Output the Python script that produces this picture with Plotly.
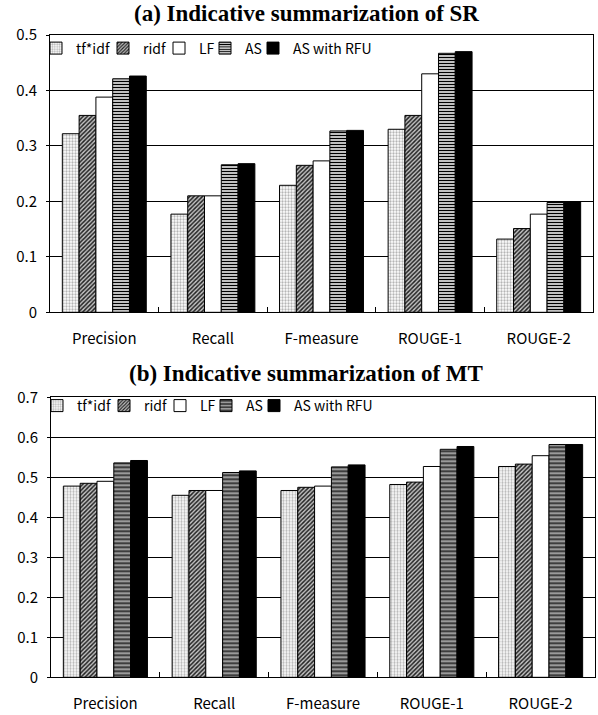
import plotly.graph_objects as go

categories = ["Precision", "Recall", "F-measure", "ROUGE-1", "ROUGE-2"]
series_names = ["tf*idf", "ridf", "LF", "AS", "AS with RFU"]

sr_tfidf = [0.322, 0.177, 0.229, 0.330, 0.132]
sr_ridf = [0.355, 0.210, 0.265, 0.355, 0.151]
sr_lf = [0.388, 0.210, 0.273, 0.430, 0.177]
sr_as = [0.421, 0.266, 0.327, 0.467, 0.198]
sr_rfu = [0.426, 0.268, 0.328, 0.470, 0.199]

mt_tfidf = [0.478, 0.455, 0.467, 0.482, 0.527]
mt_ridf = [0.485, 0.467, 0.475, 0.488, 0.533]
mt_lf = [0.490, 0.467, 0.478, 0.527, 0.554]
mt_as = [0.536, 0.512, 0.526, 0.570, 0.582]
mt_rfu = [0.542, 0.516, 0.531, 0.577, 0.582]

title_a = "(a) Indicative summarization of SR"
title_b = "(b) Indicative summarization of MT"

W, H = 598, 715
OFF = 0  # body margin removed by post_script
FONT = "Noto Sans CJK JP, Arial, sans-serif"
SERIF = "Liberation Serif, Times New Roman, serif"


def px_y(p):
    return 1 - (p - OFF) / H


def px_x(p):
    return (p - OFF) / W


def styles(panel):
    as_pat = (dict(shape="-", fgcolor="black", bgcolor="white", size=3, solidity=0.5)
              if panel == "a" else
              dict(shape="-", fgcolor="black", bgcolor="#9a9a9a", size=4, solidity=0.3))
    return [
        dict(color="white", pattern=dict(shape=".", fgcolor="#b5b5b5", bgcolor="white", size=3, solidity=0.45)),
        dict(color="white", pattern=dict(shape="/", fgcolor="#222222", bgcolor="#c4c4c4", size=3, solidity=0.5)),
        dict(color="white"),
        dict(color="white", pattern=as_pat),
        dict(color="black"),
    ]


# legend entry left positions (page px) for each series
legend_x_px = [36, 103, 159, 205, 253]

fig = go.Figure()

panels = [
    ("a", [sr_tfidf, sr_ridf, sr_lf, sr_as, sr_rfu], "x", "y", 0, 48.5),
    ("b", [mt_tfidf, mt_ridf, mt_lf, mt_as, mt_rfu], "x2", "y2", 5, 406),
]
legend_layouts = {}
for panel, data, xa, ya, lg_off, lg_y in panels:
    for i, (name, vals, st) in enumerate(zip(series_names, data, styles(panel))):
        lg_id = "legend" if (lg_off + i) == 0 else f"legend{lg_off + i + 1}"
        fig.add_trace(go.Bar(
            x=categories, y=vals, name=name, xaxis=xa, yaxis=ya, legend=lg_id,
            showlegend=True,
            marker=dict(color=st["color"], pattern=st.get("pattern"),
                        line=dict(color="black", width=1)),
        ))
        legend_layouts[lg_id] = dict(
            orientation="h", x=px_x(legend_x_px[i] + (1 if panel == "b" else 0)),
            y=px_y(lg_y), xanchor="left", yanchor="middle",
            bgcolor="rgba(0,0,0,0)", font=dict(family=FONT, size=14, color="black"),
            itemwidth=30)

axis_common = dict(showline=True, linecolor="black", linewidth=1, mirror=True,
                   automargin=False,
                   tickfont=dict(family=FONT, size=15, color="black"))
x_common = dict(type="category", tickson="boundaries", ticks="inside", ticklen=5,
                tickcolor="black", showgrid=False, ticklabelstandoff=13, **axis_common)
y_common = dict(dtick=0.1, showgrid=True, gridcolor="black", gridwidth=1,
                ticks="outside", ticklen=3, tickcolor="black", zeroline=False,
                ticklabelstandoff=6, **axis_common)

fig.update_layout(
    template="none",
    width=W, height=H,
    margin=dict(l=0, r=0, t=0, b=0, autoexpand=False),
    showlegend=True,
    paper_bgcolor="white", plot_bgcolor="white",
    barmode="group", bargap=0.227, bargroupgap=0,
    font=dict(family=FONT, size=14, color="black"),
    xaxis=dict(domain=[px_x(50), px_x(593)], anchor="y", **x_common),
    yaxis=dict(domain=[px_y(312.3), px_y(35)], anchor="x", range=[0, 0.5], **y_common),
    xaxis2=dict(domain=[px_x(51), px_x(595)], anchor="y2", **x_common),
    yaxis2=dict(domain=[px_y(677.3), px_y(397.3)], anchor="x2", range=[0, 0.7], **y_common),
    annotations=[
        dict(text="<b>" + title_a + "</b>", x=px_x(306), y=px_y(13), xref="paper", yref="paper",
             showarrow=False, xanchor="center", yanchor="middle",
             font=dict(family=SERIF, size=23, color="black")),
        dict(text="<b>" + title_b + "</b>", x=px_x(306), y=px_y(373), xref="paper", yref="paper",
             showarrow=False, xanchor="center", yanchor="middle",
             font=dict(family=SERIF, size=23, color="black")),
    ],
    **legend_layouts,
)

fig.write_html("out.html", config={"displayModeBar": False},
               post_script="document.body.style.margin='0';")
